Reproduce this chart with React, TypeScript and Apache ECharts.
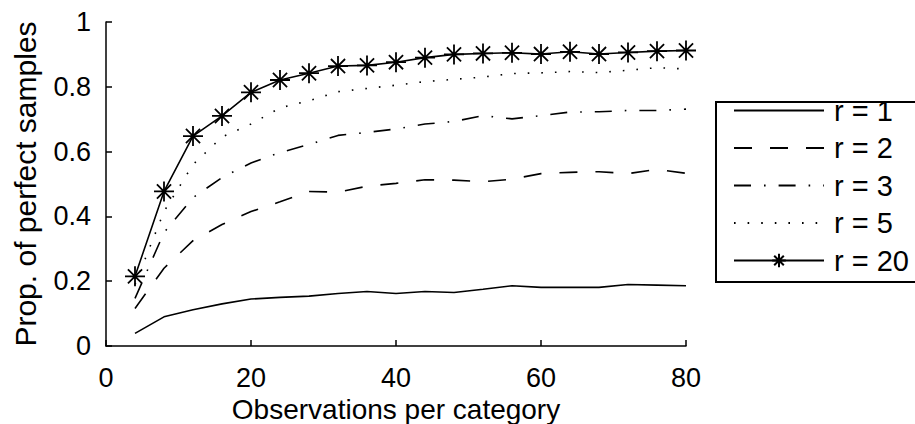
import React, { useEffect, useRef } from "react";
import * as echarts from "echarts";

const xValues = [4, 8, 12, 16, 20, 24, 28, 32, 36, 40, 44, 48, 52, 56, 60, 64, 68, 72, 76, 80];
const r1 = [0.039, 0.09, 0.112, 0.13, 0.145, 0.15, 0.154, 0.162, 0.168, 0.162, 0.168, 0.165, 0.175, 0.186, 0.181, 0.181, 0.181, 0.19, 0.188, 0.186];
const r2 = [0.116, 0.24, 0.325, 0.375, 0.415, 0.445, 0.477, 0.475, 0.493, 0.502, 0.513, 0.512, 0.507, 0.515, 0.532, 0.536, 0.538, 0.532, 0.545, 0.533];
const r3 = [0.147, 0.35, 0.458, 0.52, 0.565, 0.597, 0.622, 0.65, 0.659, 0.67, 0.685, 0.693, 0.711, 0.701, 0.711, 0.722, 0.723, 0.727, 0.727, 0.731];
const r5 = [0.19, 0.415, 0.56, 0.645, 0.685, 0.735, 0.757, 0.785, 0.795, 0.805, 0.816, 0.823, 0.83, 0.841, 0.843, 0.847, 0.844, 0.851, 0.859, 0.855];
const r20 = [0.215, 0.477, 0.648, 0.71, 0.783, 0.821, 0.842, 0.864, 0.866, 0.876, 0.89, 0.9, 0.903, 0.905, 0.901, 0.908, 0.901, 0.906, 0.91, 0.912];
const seriesNames = ["r = 1", "r = 2", "r = 3", "r = 5", "r = 20"];
const xTitle = "Observations per category";
const yTitle = "Prop. of perfect samples";

const FONT = "'Liberation Sans', Arial, Helvetica, sans-serif";
const STAR = "path://M0,-10L0,10M-10,0L10,0M-7.07,-7.07L7.07,7.07M-7.07,7.07L7.07,-7.07";

const pairs = (ys: number[]) => xValues.map((x, i) => [x, ys[i]]);

export default function App() {
  const ref = useRef<HTMLDivElement>(null);
  useEffect(() => {
    if (!ref.current) return;
    const chart = echarts.init(ref.current, null, { renderer: "svg" });
    const base = {
      type: "line",
      showSymbol: false,
      symbol: "none",
      silent: true,
      color: "#000",
    };
    const hidden = { color: "rgba(0,0,0,0)", borderColor: "rgba(0,0,0,0)", borderWidth: 0, opacity: 0 };
    chart.setOption({
      animation: false,
      textStyle: { fontFamily: FONT },
      grid: { left: 106, top: 22, width: 580, height: 324, containLabel: false, outerBoundsMode: "none" },
      xAxis: {
        type: "value",
        min: 0,
        max: 80,
        interval: 20,
        name: xTitle,
        nameLocation: "middle",
        nameGap: 45,
        nameTextStyle: { fontSize: 28, color: "#000", fontFamily: FONT },
        axisLine: { show: true, lineStyle: { color: "#000", width: 1.5 } },
        axisTick: { show: true, inside: true, length: 6, lineStyle: { color: "#000", width: 1.5 } },
        axisLabel: { fontSize: 27, color: "#000", margin: 18, fontFamily: FONT },
        splitLine: { show: false },
      },
      yAxis: {
        type: "value",
        min: 0,
        max: 1,
        interval: 0.2,
        name: yTitle,
        nameLocation: "middle",
        nameGap: 66,
        nameTextStyle: { fontSize: 30, color: "#000", fontFamily: FONT },
        axisLine: { show: true, lineStyle: { color: "#000", width: 1.5 } },
        axisTick: { show: true, inside: true, length: 6, lineStyle: { color: "#000", width: 1.5 } },
        axisLabel: { fontSize: 27, color: "#000", margin: 15, fontFamily: FONT },
        splitLine: { show: false },
      },
      legend: {
        orient: "vertical",
        left: 733,
        top: 96,
        padding: 0,
        itemWidth: 90,
        itemHeight: 17,
        itemGap: 8.5,
        data: [
          { name: seriesNames[0], itemStyle: hidden },
          { name: seriesNames[1], itemStyle: hidden },
          { name: seriesNames[2], itemStyle: hidden },
          { name: seriesNames[3], itemStyle: hidden },
          { name: seriesNames[4] },
        ],
        textStyle: { fontSize: 29, color: "#000", fontFamily: FONT, padding: [0, 0, 0, 5] },
        selectedMode: false,
      },
      graphic: [
        {
          type: "rect",
          shape: { x: 716, y: 102, width: 220, height: 180 },
          style: { fill: "none", stroke: "#000", lineWidth: 2 },
          silent: true,
        },
      ],
      series: [
        { ...base, name: seriesNames[0], data: pairs(r1), lineStyle: { color: "#000", width: 1.6, type: "solid" } },
        { ...base, name: seriesNames[1], data: pairs(r2), lineStyle: { color: "#000", width: 1.6, type: [18, 18] } },
        { ...base, name: seriesNames[2], data: pairs(r3), lineStyle: { color: "#000", width: 1.6, type: [17, 13, 1.6, 13] } },
        { ...base, name: seriesNames[3], data: pairs(r5), lineStyle: { color: "#000", width: 1.6, type: [1.6, 12] } },
        {
          type: "line",
          name: seriesNames[4],
          data: pairs(r20),
          silent: true,
          color: "#000",
          showSymbol: true,
          symbol: STAR,
          symbolSize: 20,
          itemStyle: { color: "#000", borderColor: "#000", borderWidth: 1.8 },
          lineStyle: { color: "#000", width: 1.6, type: "solid" },
        },
      ],
    });
    return () => chart.dispose();
  }, []);
  return <div ref={ref} style={{ width: 915, height: 424, position: "absolute", left: 0, top: 0 }} />;
}
